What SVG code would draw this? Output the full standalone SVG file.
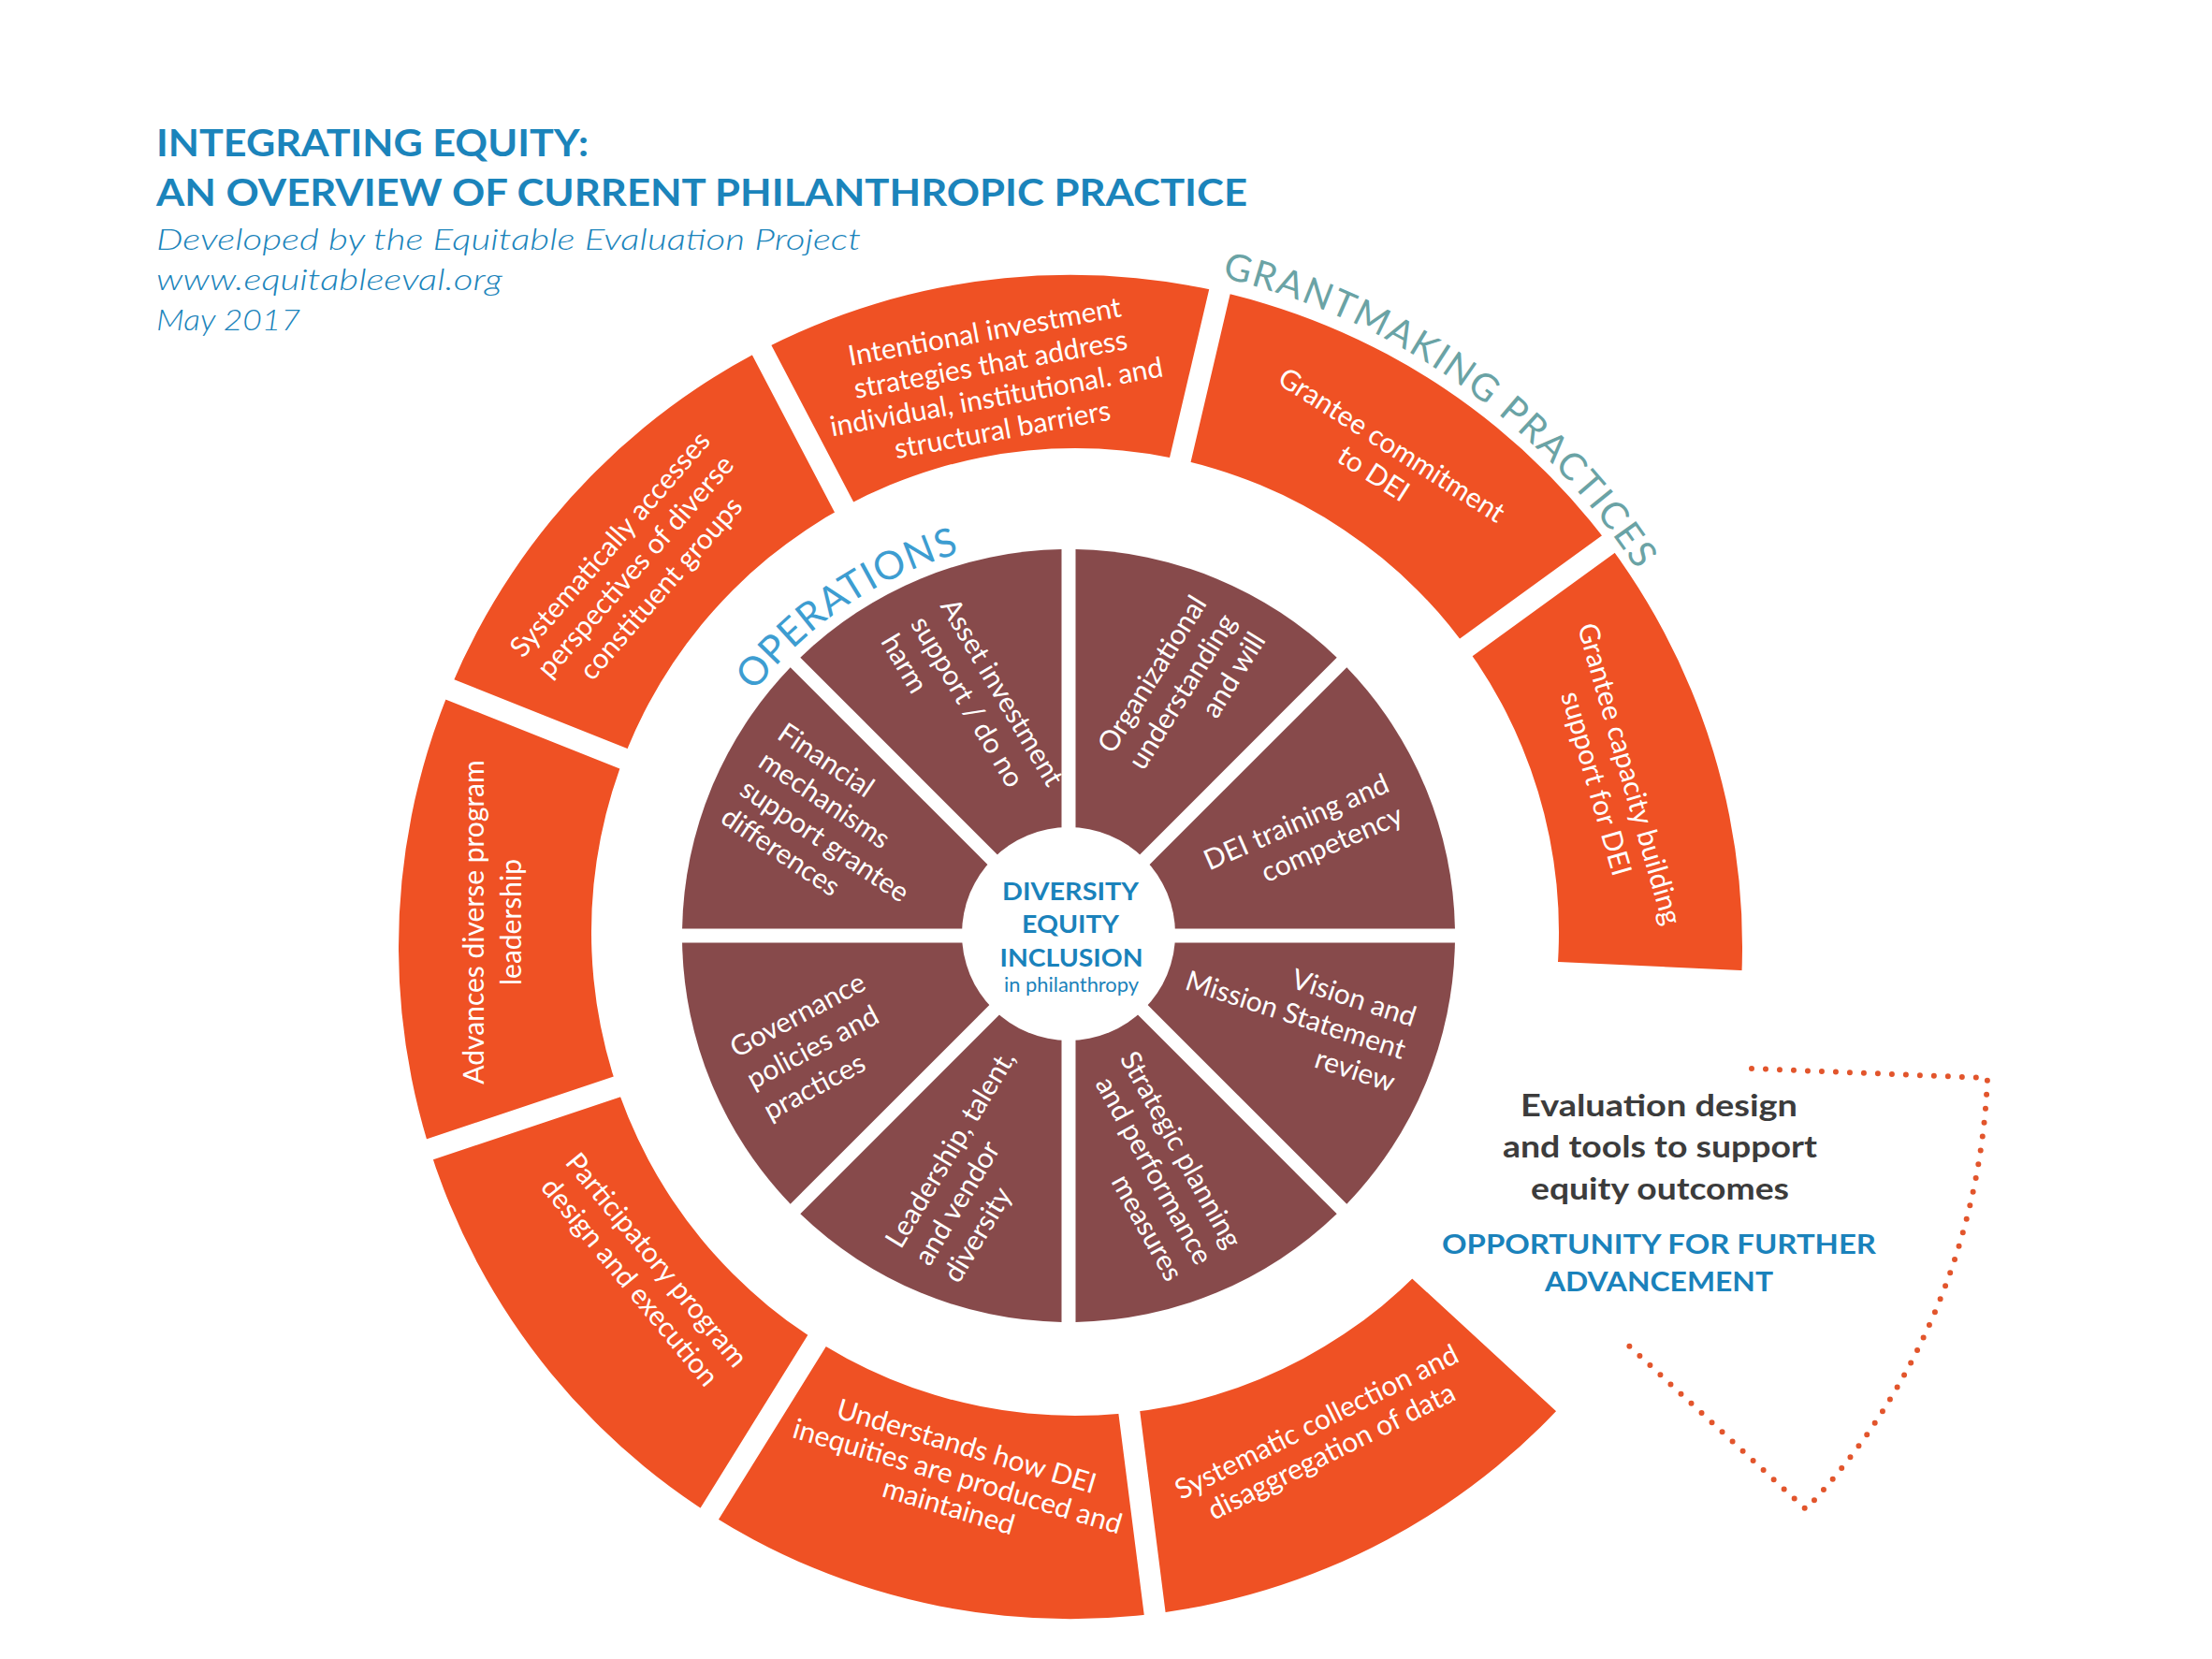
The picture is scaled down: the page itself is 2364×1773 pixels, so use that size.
<svg xmlns="http://www.w3.org/2000/svg" xmlns:xlink="http://www.w3.org/1999/xlink" width="2364" height="1773" viewBox="0 0 2364 1773">
<style>
  .bg{fill:#ffffff}
  .orange{fill:#EF5124}
  .maroon{fill:#874A4B}
  .title{font-family:Lato,"Liberation Sans",sans-serif;font-weight:700;font-size:40px;fill:#1B84BB}
  .sub{font-family:Lato,"Liberation Sans",sans-serif;font-style:italic;font-weight:300;font-size:31px;fill:#1B84BB}
  .lbl{font-family:Lato,"Liberation Sans",sans-serif;font-weight:400;font-size:30px;fill:#ffffff}
  .mid{text-anchor:middle}
  .start{text-anchor:start}
  .end{text-anchor:end}
  .core{font-family:Lato,"Liberation Sans",sans-serif;font-weight:700;font-size:26px;fill:#1A82BB;text-anchor:middle}
  .core-s{font-family:Lato,"Liberation Sans",sans-serif;font-weight:400;font-size:21px;fill:#1A82BB;text-anchor:middle}
  .ops{font-family:Lato,"Liberation Sans",sans-serif;font-weight:400;font-size:42px;fill:#3D9DD1;letter-spacing:1px}
  .grant{font-family:Lato,"Liberation Sans",sans-serif;font-weight:400;font-size:40px;fill:#6AA3A5;letter-spacing:2px}
  .eval{font-family:Lato,"Liberation Sans",sans-serif;font-weight:700;font-size:33px;fill:#3C3C3C;text-anchor:middle}
  .opp{font-family:Lato,"Liberation Sans",sans-serif;font-weight:700;font-size:28px;fill:#1A82BB;text-anchor:middle}
  .dots{fill:none;stroke:#E2552C;stroke-width:6;stroke-linecap:round;stroke-linejoin:round;stroke-dasharray:0 15}
</style>
<defs>
  <path id="ring" fill-rule="evenodd" d="M 426 1012 A 718 718 0 1 0 1862 1012 A 718 718 0 1 0 426 1012 Z M 632 996 A 517 517 0 1 0 1666 996 A 517 517 0 1 0 632 996 Z"/>
  <path id="sec" d="M 18.1 7.5 L 412.93 7.5 A 413 413 0 0 1 297.29 286.69 Z"/>
  <path id="opsArc" d="M 718.0 1029.6 A 425 425 0 0 1 1328.3 618.0"/>
  <path id="grantArc" d="M 839.7 344.3 A 722 722 0 0 1 1861.0 1066.1"/>
  <clipPath id="c-collection"><polygon points="1372,1240 2428,2213 1355.33,2585.75 1153.41,998.55"/></clipPath>
  <clipPath id="c-understands"><polygon points="1130.59,1001.45 1332.5,2588.7 307.45,2365.2 1151.77,1006.07"/></clipPath>
  <clipPath id="c-participatory"><polygon points="1132.23,993.93 287.91,2353.03 -371.66,1518.59 1145.65,1010.91"/></clipPath>
  <clipPath id="c-advances"><polygon points="1138.35,989.09 -378.96,1496.77 -348.86,419.09 1137.75,1010.69"/></clipPath>
  <clipPath id="c-systematically"><polygon points="1146.25,989.32 -340.36,397.72 389.30,-411.97 1131.81,1005.34"/></clipPath>
  <clipPath id="c-intentional"><polygon points="1152.19,994.66 409.68,-422.65 1496.16,-560.36 1130.80,997.37"/></clipPath>
  <clipPath id="c-commitment"><polygon points="1153.20,1002.63 1518.56,-555.10 2430.50,51.36 1135.25,990.69"/></clipPath>
  <clipPath id="c-capacity"><polygon points="1148.75,1009.31 2444.00,69.98 2900,1084.5 1500,1020.5"/></clipPath>
</defs>

<rect class="bg" x="0" y="0" width="2364" height="1773"/>

<g id="title">
  <text class="title" x="167" y="167" textLength="462" lengthAdjust="spacingAndGlyphs">INTEGRATING EQUITY:</text>
  <text class="title" x="167" y="220" textLength="1166" lengthAdjust="spacingAndGlyphs">AN OVERVIEW OF CURRENT PHILANTHROPIC PRACTICE</text>
  <text class="sub" x="167" y="267" textLength="753" lengthAdjust="spacingAndGlyphs">Developed by the Equitable Evaluation Project</text>
  <text class="sub" x="167" y="310" textLength="370" lengthAdjust="spacingAndGlyphs">www.equitableeval.org</text>
  <text class="sub" x="167" y="353" textLength="154" lengthAdjust="spacingAndGlyphs">May 2017</text>
</g>

<g id="orange-ring">
  <g id="seg-systematic-collection">
    <use xlink:href="#ring" class="orange" clip-path="url(#c-collection)"/>
    <g transform="translate(1415.5 1536.5) rotate(-26.5)">
      <text class="lbl mid" x="0" y="-8.5">Systematic collection and</text>
      <text class="lbl mid" x="0" y="26.5">disaggregation of data</text>
    </g>
  </g>
  <g id="seg-understands">
    <use xlink:href="#ring" class="orange" clip-path="url(#c-understands)"/>
    <g transform="translate(1023 1579) rotate(16.5)">
      <text class="lbl mid" x="0" y="-24.5">Understands how DEI</text>
      <text class="lbl mid" x="0" y="9">inequities are produced and</text>
      <text class="lbl mid" x="0" y="42.5">maintained</text>
    </g>
  </g>
  <g id="seg-participatory">
    <use xlink:href="#ring" class="orange" clip-path="url(#c-participatory)"/>
    <g transform="translate(686.5 1359) rotate(50.5)">
      <text class="lbl mid" x="0" y="-9.5">Participatory program</text>
      <text class="lbl mid" x="0" y="27.5">design and execution</text>
    </g>
  </g>
  <g id="seg-advances">
    <use xlink:href="#ring" class="orange" clip-path="url(#c-advances)"/>
    <g transform="translate(528 985.5) rotate(-90)">
      <text class="lbl mid" x="0" y="-11">Advances diverse program</text>
      <text class="lbl mid" x="0" y="29">leadership</text>
    </g>
  </g>
  <g id="seg-systematically">
    <use xlink:href="#ring" class="orange" clip-path="url(#c-systematically)"/>
    <g transform="translate(680 606) rotate(-49)">
      <text class="lbl mid" x="0" y="-27">Systematically accesses</text>
      <text class="lbl mid" x="0" y="9">perspectives of diverse</text>
      <text class="lbl mid" x="0" y="45">constituent groups</text>
    </g>
  </g>
  <g id="seg-intentional">
    <use xlink:href="#ring" class="orange" clip-path="url(#c-intentional)"/>
    <g transform="translate(1062 408) rotate(-10.3)">
      <text class="lbl mid" x="0" y="-44.25">Intentional investment</text>
      <text class="lbl mid" x="0" y="-8.75">strategies that address</text>
      <text class="lbl mid" x="0" y="26.75">individual, institutional. and</text>
      <text class="lbl mid" x="0" y="62.25">structural barriers</text>
    </g>
  </g>
  <g id="seg-grantee-commitment">
    <use xlink:href="#ring" class="orange" clip-path="url(#c-commitment)"/>
    <g transform="translate(1477 492) rotate(32.5)">
      <text class="lbl mid" x="0" y="-9">Grantee commitment</text>
      <text class="lbl mid" x="0" y="27">to DEI</text>
    </g>
  </g>
  <g id="seg-grantee-capacity">
    <use xlink:href="#ring" class="orange" clip-path="url(#c-capacity)"/>
    <g transform="translate(1722.5 832.5) rotate(74)">
      <text class="lbl mid" x="0" y="-9.5">Grantee capacity building</text>
      <text class="lbl mid" x="0" y="27.5">support for DEI</text>
    </g>
  </g>
</g>

<g id="maroon-ring">
  <g id="sec-vision">
    <use xlink:href="#sec" class="maroon" transform="translate(1142 1000) rotate(0)"/>
    <g transform="translate(1512 1089) rotate(18)">
      <text class="lbl end" x="0" y="9">Vision and</text>
      <text class="lbl end" x="0" y="45.6">Mission Statement</text>
      <text class="lbl end" x="0" y="82.2">review</text>
    </g>
  </g>
  <g id="sec-strategic">
    <use xlink:href="#sec" class="maroon" transform="translate(1142 1000) rotate(45)"/>
    <g transform="translate(1318 1332) rotate(61)">
      <text class="lbl end" x="0" y="9">Strategic planning</text>
      <text class="lbl end" x="0" y="45">and performance</text>
      <text class="lbl end" x="0" y="81">measures</text>
    </g>
  </g>
  <g id="sec-leadership">
    <use xlink:href="#sec" class="maroon" transform="translate(1142 1000) rotate(90)"/>
    <g transform="translate(955 1331) rotate(-59)">
      <text class="lbl start" x="0" y="9">Leadership, talent,</text>
      <text class="lbl start" x="0" y="45">and vendor</text>
      <text class="lbl start" x="0" y="81">diversity</text>
    </g>
  </g>
  <g id="sec-governance">
    <use xlink:href="#sec" class="maroon" transform="translate(1142 1000) rotate(135)"/>
    <g transform="translate(783 1123) rotate(-28)">
      <text class="lbl start" x="0" y="9">Governance</text>
      <text class="lbl start" x="0" y="47">policies and</text>
      <text class="lbl start" x="0" y="85">practices</text>
    </g>
  </g>
  <g id="sec-financial">
    <use xlink:href="#sec" class="maroon" transform="translate(1142 1000) rotate(180)"/>
    <g transform="translate(834 781) rotate(34)">
      <text class="lbl start" x="0" y="9">Financial</text>
      <text class="lbl start" x="0" y="45">mechanisms</text>
      <text class="lbl start" x="0" y="81">support grantee</text>
      <text class="lbl start" x="0" y="117">differences</text>
    </g>
  </g>
  <g id="sec-asset">
    <use xlink:href="#sec" class="maroon" transform="translate(1142 1000) rotate(225)"/>
    <g transform="translate(1012 643) rotate(59.3)">
      <text class="lbl start" x="0" y="9">Asset investment</text>
      <text class="lbl start" x="0" y="46">support / do no</text>
      <text class="lbl start" x="0" y="83">harm</text>
    </g>
  </g>
  <g id="sec-organizational">
    <use xlink:href="#sec" class="maroon" transform="translate(1142 1000) rotate(270)"/>
    <g transform="translate(1283 640) rotate(-58)">
      <text class="lbl end" x="0" y="9">Organizational</text>
      <text class="lbl end" x="0" y="46">understanding</text>
      <text class="lbl end" x="0" y="83">and will</text>
    </g>
  </g>
  <g id="sec-dei-training">
    <use xlink:href="#sec" class="maroon" transform="translate(1142 1000) rotate(315)"/>
    <g transform="translate(1483 837) rotate(-23.7)">
      <text class="lbl end" x="0" y="9">DEI training and</text>
      <text class="lbl end" x="0" y="45.5">competency</text>
    </g>
  </g>
</g>

<g id="core">
  <circle cx="1142" cy="998" r="114" fill="#ffffff"/>
  <text class="core" x="1144" y="962" textLength="146" lengthAdjust="spacingAndGlyphs">DIVERSITY</text>
  <text class="core" x="1144" y="997" textLength="104" lengthAdjust="spacingAndGlyphs">EQUITY</text>
  <text class="core" x="1145" y="1033" textLength="153" lengthAdjust="spacingAndGlyphs">INCLUSION</text>
  <text class="core-s" x="1145" y="1060" textLength="144" lengthAdjust="spacingAndGlyphs">in philanthropy</text>
</g>

<g id="ring-labels">
  <text class="ops"><textPath xlink:href="#opsArc" startOffset="50%" text-anchor="middle">OPERATIONS</textPath></text>
  <text class="grant"><textPath xlink:href="#grantArc" startOffset="50%" text-anchor="middle">GRANTMAKING PRACTICES</textPath></text>
</g>

<g id="node-evaluation">
  <path class="dots" d="M 1872 1142 L 2124 1152 A 712 712 0 0 1 1930 1613 L 1733 1431"/>
  <text class="eval" x="1773" y="1193" textLength="296" lengthAdjust="spacingAndGlyphs">Evaluation design</text>
  <text class="eval" x="1774" y="1237" textLength="336" lengthAdjust="spacingAndGlyphs">and tools to support</text>
  <text class="eval" x="1774" y="1282" textLength="276" lengthAdjust="spacingAndGlyphs">equity outcomes</text>
  <text class="opp" x="1773" y="1340" textLength="464" lengthAdjust="spacingAndGlyphs">OPPORTUNITY FOR FURTHER</text>
  <text class="opp" x="1773" y="1380" textLength="244" lengthAdjust="spacingAndGlyphs">ADVANCEMENT</text>
</g>

<g id="connectors"></g>
</svg>
